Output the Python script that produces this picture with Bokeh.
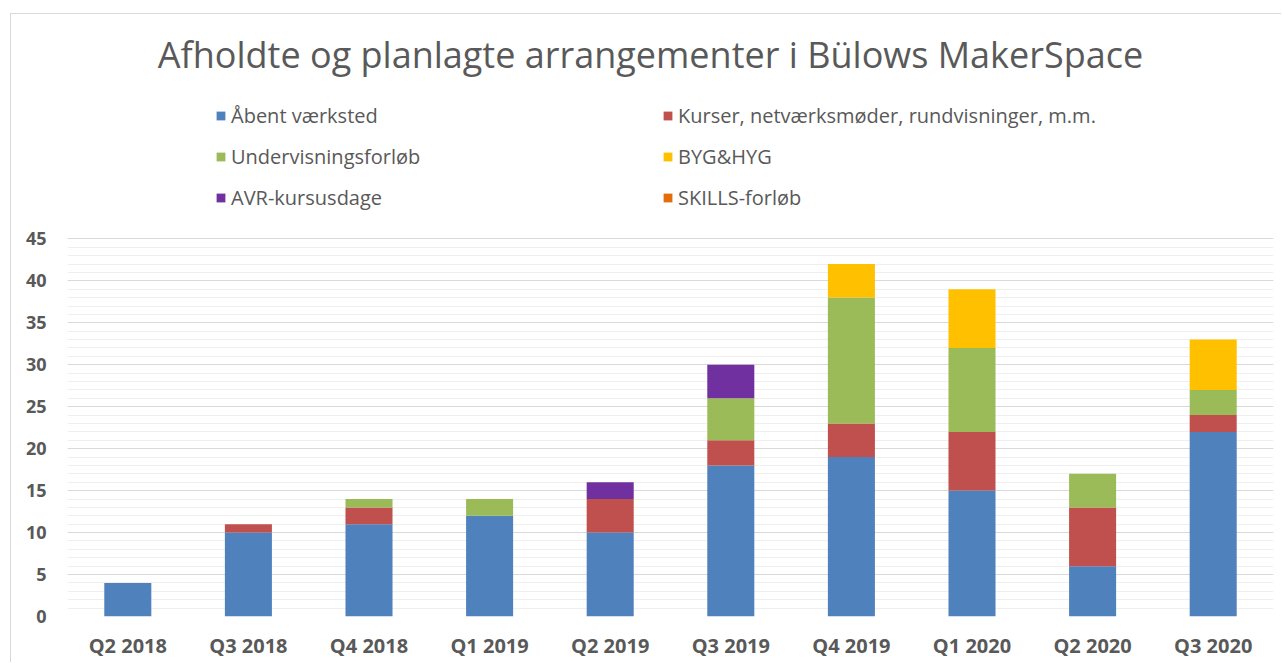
from bokeh.plotting import figure
from bokeh.models import (ColumnDataSource, FactorRange, Range1d, SingleIntervalTicker,
                          Legend, LegendItem, Label)
from bokeh.embed import file_html
from bokeh.resources import INLINE

quarters = ["Q2 2018", "Q3 2018", "Q4 2018", "Q1 2019", "Q2 2019",
            "Q3 2019", "Q4 2019", "Q1 2020", "Q2 2020", "Q3 2020"]
aabent = [4, 10, 11, 12, 10, 18, 19, 15, 6, 22]
kurser = [0, 1, 2, 0, 4, 3, 4, 7, 7, 2]
undervisning = [0, 0, 1, 2, 0, 5, 15, 10, 4, 3]
byg = [0, 0, 0, 0, 0, 0, 4, 7, 0, 6]
avr = [0, 0, 0, 0, 2, 4, 0, 0, 0, 0]
skills = [0, 0, 0, 0, 0, 0, 0, 0, 0, 0]

series_keys = ["aabent", "kurser", "undervisning", "byg", "avr", "skills"]
series_labels = ["Åbent værksted", "Kurser, netværksmøder, rundvisninger, m.m.",
                 "Undervisningsforløb", "BYG&HYG", "AVR-kursusdage", "SKILLS-forløb"]
colors = ["#4F81BD", "#C0504D", "#9BBB59", "#FFC000", "#7030A0", "#E46C0A"]
title_text = "Afholdte og planlagte arrangementer i Bülows MakerSpace"

y_max = 45
y_tick_step = 5

source = ColumnDataSource(dict(quarter=quarters, aabent=aabent, kurser=kurser,
                               undervisning=undervisning, byg=byg, avr=avr, skills=skills))

TXT = "#595959"
# frame extends above the value axis to hold title and legend
Y_TOP = y_max * 601 / 377

p = figure(x_range=FactorRange(*quarters, range_padding=0), y_range=Range1d(0, Y_TOP),
           width=1271, height=649, output_backend="svg", toolbar_location=None,
           min_border_left=56, min_border_right=9, min_border_top=0, min_border_bottom=47,
           title=None)
p.margin = (13, 0, 0, 10)
p.styles = {"border-left": "1px solid #d9d9d9", "border-top": "1px solid #d9d9d9"}
p.outline_line_color = None
p.background_fill_color = "white"
p.border_fill_color = "white"

renderers = p.vbar_stack(series_keys, x="quarter", width=0.39, source=source,
                         color=colors, line_color=None)

p.yaxis.ticker = SingleIntervalTicker(interval=y_tick_step, num_minor_ticks=5)
p.yaxis.bounds = (0, y_max)
p.ygrid.bounds = (0, y_max)
p.ygrid.grid_line_color = "#d9d9d9"
p.ygrid.minor_grid_line_color = "#efefef"
p.ygrid.minor_grid_line_width = 1
p.xgrid.grid_line_color = None

for ax in (p.xaxis, p.yaxis):
    ax.axis_line_color = None
    ax.major_tick_line_color = None
    ax.minor_tick_line_color = None
    ax.major_tick_out = 0
    ax.minor_tick_out = 0
    ax.major_tick_in = 0
    ax.major_label_text_font = "Open Sans"
    ax.major_label_text_font_style = "bold"
    ax.major_label_text_color = TXT
p.xaxis.major_label_text_font_size = "20px"
p.yaxis.major_label_text_font_size = "18px"
p.yaxis.major_label_standoff = 21
p.xaxis.major_label_standoff = 15

legend = Legend(items=[LegendItem(label=lab, renderers=[r]) for lab, r in zip(series_labels, renderers)],
                orientation="horizontal", ncols=2, location=(148, 405),
                padding=0, margin=0, border_line_color=None, background_fill_alpha=0,
                glyph_width=11, glyph_height=11, label_height=21, label_width=417,
                spacing=14, label_standoff=5,
                label_text_font="Open Sans", label_text_font_size="20px",
                label_text_color=TXT)
p.add_layout(legend, "center")

title = Label(x=583, y=562, x_units="screen", y_units="screen", text=title_text,
              text_align="center", text_baseline="middle", text_font="Open Sans",
              text_font_size="36px", text_color=TXT)
p.add_layout(title)

open("out.html", "w").write(file_html(p, INLINE))
